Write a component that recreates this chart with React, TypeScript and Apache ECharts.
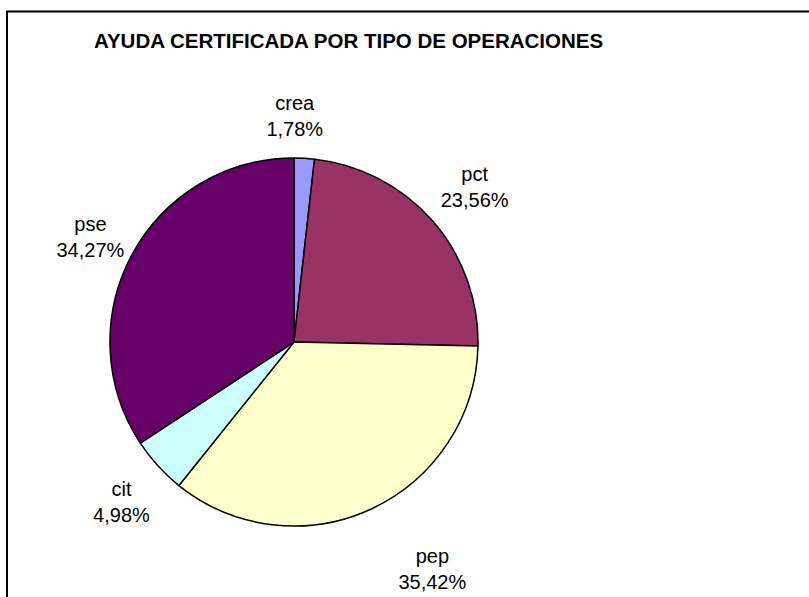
import React, { useEffect, useRef } from "react";
import * as echarts from "echarts";

const TITLE = "AYUDA CERTIFICADA POR TIPO DE OPERACIONES";
const categories = ["crea", "pct", "pep", "cit", "pse"];
const percentages = [1.78, 23.56, 35.42, 4.98, 34.27];
const colors = ["#9999FF", "#993366", "#FFFFCC", "#CCFFFF", "#660066"];

const CENTER_X = 294;
const CENTER_Y = 342;
const RADIUS = 184;
const LABEL_GAP = 11;
// small manual nudges of the label boxes, as placed in the original chart
const LABEL_NUDGE = [
  [-13, -5],
  [0, -1],
  [30, 24],
  [0, 3],
  [2, 10],
];

export default function App() {
  const ref = useRef<HTMLDivElement>(null);

  useEffect(() => {
    if (!ref.current) return;
    const chart = echarts.init(ref.current, null, { renderer: "svg" });
    const total = percentages.reduce((a, b) => a + b, 0);
    const cum: number[] = [];
    let acc = 0;
    for (const v of percentages) {
      cum.push(acc);
      acc += v;
    }
    const clamp = (v: number) => Math.max(-1, Math.min(1, v));

    chart.setOption({
      animation: false,
      backgroundColor: "#ffffff",
      graphic: [
        {
          type: "rect",
          shape: { x: 7, y: 11.5, width: 900, height: 700 },
          style: { fill: "none", stroke: "#000", lineWidth: 2 },
          silent: true,
        },
        {
          type: "text",
          x: 94,
          y: 40,
          style: {
            text: TITLE,
            fill: "#000",
            font: "bold 20.5px 'Liberation Sans', Arial, sans-serif",
            align: "left",
            verticalAlign: "middle",
          },
        },
      ],
      series: [
        {
          type: "pie",
          center: [CENTER_X, CENTER_Y],
          radius: RADIUS,
          startAngle: 90,
          clockwise: true,
          avoidLabelOverlap: false,
          data: categories.map((name, i) => ({
            name,
            value: percentages[i],
            itemStyle: { color: colors[i] },
          })),
          itemStyle: { borderColor: "#000", borderWidth: 1.5 },
          emphasis: { disabled: true },
          label: {
            show: true,
            position: "outside",
            color: "#000",
            fontFamily: "'Liberation Sans', Arial, sans-serif",
            fontSize: 20,
            lineHeight: 26,
            align: "center",
            formatter: (p: any) =>
              p.name + "\n" + Number(p.value).toFixed(2).replace(".", ",") + "%",
          },
          labelLine: { show: false },
          labelLayout: (params: any) => {
            const i = params.dataIndex;
            const theta = (2 * Math.PI * (cum[i] + percentages[i] / 2)) / total;
            const sx = Math.sin(theta);
            const sy = -Math.cos(theta);
            const d = RADIUS + LABEL_GAP;
            const ax = CENTER_X + sx * d;
            const ay = CENTER_Y + sy * d;
            const hw = params.labelRect.width / 2;
            const hh = params.labelRect.height / 2;
            return {
              x: ax + clamp(sx * 1.8) * hw + LABEL_NUDGE[i][0],
              y: ay + clamp(sy * 1.8) * hh + LABEL_NUDGE[i][1],
              align: "center",
              verticalAlign: "middle",
            };
          },
        },
      ],
    });
    return () => chart.dispose();
  }, []);

  return (
    <div
      ref={ref}
      style={{ position: "absolute", left: 0, top: 0, width: 809, height: 597 }}
    />
  );
}
